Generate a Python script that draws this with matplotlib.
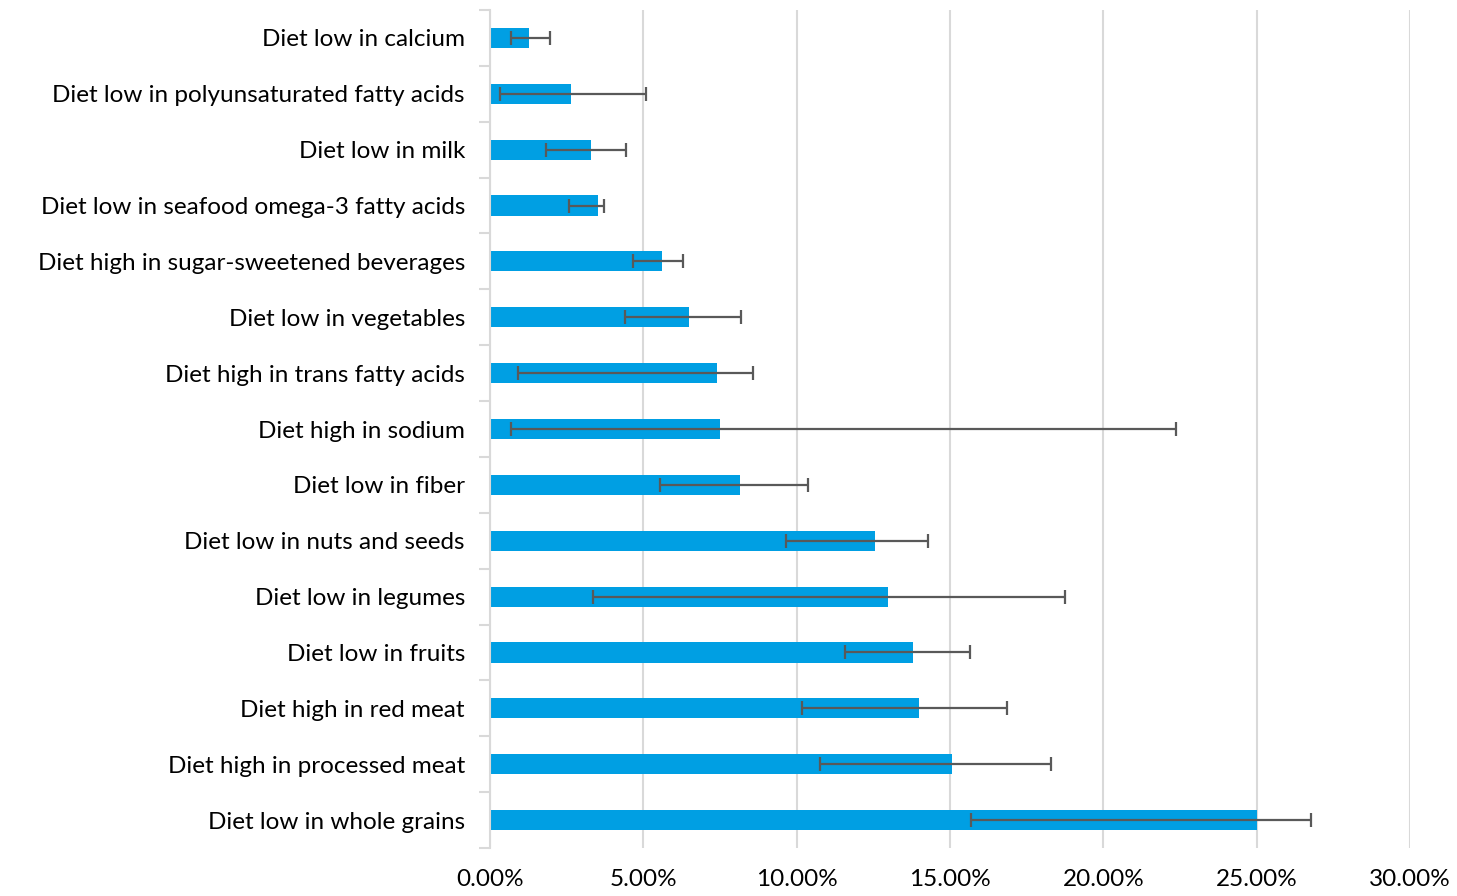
import numpy as np
import matplotlib
matplotlib.use("Agg")
import matplotlib.pyplot as plt
from matplotlib.ticker import FuncFormatter, FixedLocator

plt.rcParams['font.family'] = ['Lato', 'DejaVu Sans']

# data, top to bottom as shown in the chart
categories = [
    "Diet low in calcium",
    "Diet low in polyunsaturated fatty acids",
    "Diet low in milk",
    "Diet low in seafood omega-3 fatty acids",
    "Diet high in sugar-sweetened beverages",
    "Diet low in vegetables",
    "Diet high in trans fatty acids",
    "Diet high in sodium",
    "Diet low in fiber",
    "Diet low in nuts and seeds",
    "Diet low in legumes",
    "Diet low in fruits",
    "Diet high in red meat",
    "Diet high in processed meat",
    "Diet low in whole grains",
]
values = [1.27, 2.64, 3.29, 3.52, 5.61, 6.49, 7.40, 7.50, 8.15, 12.55, 12.98, 13.79, 13.99, 15.06, 25.00]
lower = [0.68, 0.33, 1.83, 2.58, 4.66, 4.40, 0.91, 0.68, 5.54, 9.65, 3.36, 11.57, 10.17, 10.76, 15.68]
upper = [1.96, 5.09, 4.43, 3.72, 6.29, 8.18, 8.58, 22.37, 10.37, 14.28, 18.75, 15.65, 16.86, 18.29, 26.77]

values = np.array(values)
err = np.array([values - np.array(lower), np.array(upper) - values])
y = np.arange(len(categories))

fig = plt.figure(figsize=(14.57, 8.96), dpi=100)
ax = fig.add_axes([0.3363, 0.0536, 0.6314, 0.9352])

ax.barh(y, values, height=0.36, color='#009fe3', zorder=2)
ax.errorbar(values, y, xerr=err, fmt='none', ecolor='#595959', elinewidth=1.6,
            capsize=5, capthick=1.6, zorder=3)

ax.set_ylim(len(categories) - 0.5, -0.5)
ax.set_xlim(0, 30)
ax.set_xticks(np.arange(0, 31, 5))
ax.xaxis.set_major_formatter(FuncFormatter(lambda v, p: f"{v:.2f}%"))
ax.grid(axis='x', color='#d9d9d9', linewidth=1.5, zorder=0)
ax.set_axisbelow(True)

ax.set_yticks(y)
ax.set_yticklabels(categories)
ax.yaxis.set_minor_locator(FixedLocator(np.arange(-0.5, len(categories), 1)))
ax.tick_params(axis='y', which='major', length=0, pad=18, labelsize=17.5, labelcolor='#000000')
ax.tick_params(axis='y', which='minor', length=8, width=1.5, color='#d9d9d9')
ax.tick_params(axis='x', length=0, pad=15, labelsize=17.5)

for s in ['top', 'right', 'bottom']:
    ax.spines[s].set_visible(False)
ax.spines['left'].set_color('#d9d9d9')
ax.spines['left'].set_linewidth(1.5)

fig.savefig("out.png", dpi=100)
